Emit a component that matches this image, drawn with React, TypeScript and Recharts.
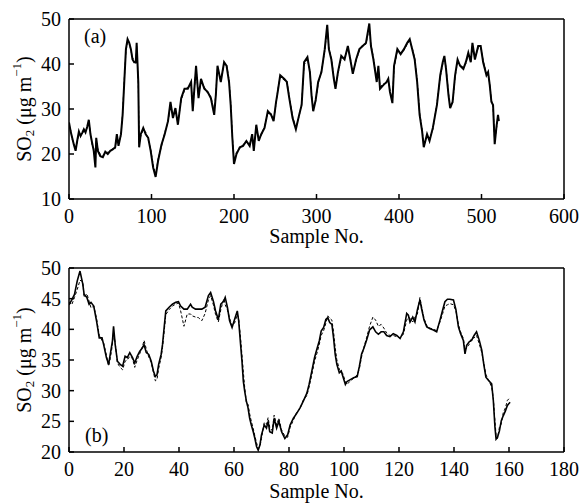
import React from "react";
import { LineChart, Line, XAxis, YAxis, Label } from "recharts";

const FONT = '"Liberation Serif", "Times New Roman", serif';

// panel (a): sample no. vs SO2, measured (solid) and modelled (dashed)
const aSample = [
  0, 2, 4, 6, 8, 10, 12, 14, 16, 18,
  20, 22, 24, 26, 28, 30, 32, 33, 35, 38,
  41, 44, 47, 50, 53, 56, 58, 60, 63, 65,
  67, 69, 71, 73, 75, 77, 79, 81, 82, 84,
  85, 87, 90, 93, 96, 99, 102, 105, 108, 112,
  116, 120, 123, 126, 129, 132, 136, 140, 144, 148,
  150, 154, 157, 160, 164, 168, 172, 176, 178, 180,
  184, 188, 191, 194, 196, 198, 200, 203, 207, 211,
  215, 219, 222, 224, 227, 230, 233, 237, 241, 245,
  248, 251, 253, 256, 261, 264, 267, 271, 275, 279,
  282, 285, 289, 292, 294, 296, 299, 302, 306, 310,
  313, 315, 318, 321, 323, 326, 330, 334, 338, 341,
  344, 348, 352, 356, 360, 364, 366, 369, 373, 375,
  377, 381, 385, 387, 389, 392, 394, 398, 402, 406,
  410, 413, 416, 419, 422, 425, 428, 430, 434, 437,
  441, 446, 450, 453, 455, 457, 460, 462, 465, 468,
  471, 474, 478, 481, 484, 487, 489, 492, 496, 499,
  502, 506, 508, 510, 512, 514, 516, 518, 520, 521,
];
const aMeasured = [
  27, 25, 23.5, 22, 20.7, 23, 25, 24, 24.7, 25.5,
  24.8, 26, 27.6, 24.4, 22.5, 20.7, 17, 23.6, 20.7, 19.5,
  19.3, 20.5, 20, 20.7, 21, 21.5, 24.4, 21.8, 24.4, 28.7,
  36, 43.3, 45.5, 44.7, 43.3, 41, 40.4, 40.4, 44.7, 36,
  21.5, 24.4, 25.8, 24.4, 23.6, 20.7, 17, 14.9, 18.5, 22,
  24.4, 27.3, 31.6, 28, 30.2, 26.5, 32.4, 34.5, 34.5, 36,
  29.5, 39.6, 32.4, 36.7, 34.5, 33.8, 32.4, 28.7, 33.1, 39.6,
  36, 40.4, 39.6, 36, 30.9, 23.6, 17.8, 20, 21.5, 21.8,
  22.9, 21.8, 24.4, 20.7, 26.5, 22.9, 24.4, 25.8, 29.5, 28.7,
  27.3, 31.6, 33.8, 37.5, 36.7, 36, 32.4, 28, 25.5, 28.7,
  30.9, 40.4, 41.5, 38.2, 33, 29.5, 32, 36, 38.2, 43.3,
  48.7, 43.3, 41, 36.7, 34.5, 38.2, 41.8, 41, 44, 41,
  37.8, 41, 43.3, 44, 44.7, 49, 44, 41, 36, 39.6,
  34.5, 35.3, 36, 36.7, 33.8, 31.3, 39.6, 43.3, 42.2, 43.3,
  44.7, 45.5, 43.3, 41, 36, 28.7, 25.1, 21.5, 24.4, 22.9,
  25.8, 30.9, 37.5, 40.4, 41.8, 38.9, 33.1, 30.2, 31.6, 37.5,
  41, 39.6, 38.9, 40.4, 42.5, 40.4, 44.7, 41, 44, 44,
  40.4, 37.5, 38.2, 35.3, 31.6, 30.9, 22.2, 25.8, 28.7, 27.3,
];
const aPredicted = [
  26.5, 25.4, 23.2, 22.4, 21.2, 22.6, 24.6, 24.3, 24.4, 25.2,
  25.1, 25.7, 27.1, 24.8, 22.1, 21.2, 18, 22.9, 21.1, 19.9,
  19.7, 20.2, 20.4, 20.4, 21.3, 21.2, 23.8, 22.2, 24, 29.3,
  36.6, 42.8, 45, 44.9, 43, 41.4, 40.8, 40.1, 44, 35.4,
  22.2, 24, 25.4, 24.8, 23.2, 21.1, 17.6, 15.4, 18.9, 21.6,
  24.8, 27, 31, 28.4, 29.8, 26.9, 32, 34.1, 34.9, 35.6,
  30.2, 39, 33, 36.3, 34.9, 33.5, 32.8, 29.3, 33.5, 39.1,
  36.4, 40, 39.9, 36.5, 31.5, 24.2, 18.3, 20.4, 21.2, 22.1,
  22.6, 22.2, 24, 21.2, 26.1, 23.3, 24.1, 26.2, 29.1, 29,
  27.6, 31.2, 34.2, 37.1, 36.4, 36.3, 32.8, 28.4, 25.9, 28.4,
  31.3, 39.8, 41.1, 38.6, 33.4, 29.9, 31.7, 35.6, 38.5, 42.9,
  48, 43.6, 41.4, 37.1, 34.9, 37.8, 41.4, 41.3, 43.6, 41.3,
  38.2, 40.7, 43, 44.3, 44.4, 48.2, 44.3, 41.4, 36.4, 39.2,
  34.9, 35.6, 35.7, 36.4, 34.2, 31.8, 39.1, 42.9, 42.5, 43,
  44.4, 45.1, 43.6, 41.3, 36.5, 29.2, 25.5, 22, 24, 23.3,
  25.4, 31.3, 37.1, 40, 41.4, 39.3, 33.5, 30.6, 31.3, 37.1,
  40.6, 39.9, 39.2, 40.1, 42.1, 40.8, 44.2, 41.3, 43.6, 43.7,
  40.8, 37.8, 37.9, 35.6, 32, 30.5, 22.8, 25.4, 28.3, 27.7,
];
const aXTicks = [0, 100, 200, 300, 400, 500, 600];
const aYTicks = [10, 20, 30, 40, 50];

// panel (b)
const bSample = [
  0, 1, 2, 3, 4, 5, 5.5, 6.5, 7.3, 8,
  9, 10, 11, 12, 12.6, 13.6, 14.4, 15, 15.8, 16.2,
  16.8, 17.6, 18.6, 19.5, 20.4, 21.2, 22.1, 23.1, 23.9, 24.8,
  25.7, 26.7, 27.3, 28.1, 29, 29.9, 30.7, 31.4, 32, 32.6,
  33.5, 34, 34.6, 35.2, 36.4, 37.6, 38.8, 39.8, 40.6, 41.8,
  43, 44.2, 44.8, 46, 47.1, 48.3, 49.5, 50.7, 51.5, 52.5,
  53.3, 54.3, 55.2, 56.3, 56.8, 57.6, 58.4, 59.3, 60.2, 61.2,
  61.7, 62.4, 62.9, 63.4, 63.9, 64.5, 65.1, 65.7, 66.3, 67,
  67.6, 68.2, 68.8, 69.4, 70, 71, 71.8, 72.4, 73, 73.9,
  74.6, 75.5, 76.3, 77.3, 78.5, 79.5, 80.4, 81.6, 82.8, 84,
  85.2, 86.5, 87.3, 88.3, 89.3, 90.1, 91, 91.7, 92.6, 93.4,
  94.1, 94.8, 95.6, 96.2, 96.8, 97.4, 98.3, 99, 99.6, 100.5,
  101.1, 102.3, 103.5, 104.8, 105.6, 106.4, 107.3, 108.2, 109.3, 110.5,
  111.5, 112.5, 113.5, 114.5, 115.5, 116.7, 117.9, 119.2, 120.4, 121.6,
  122.8, 123.4, 124, 125, 125.8, 126.7, 127.6, 128.2, 129.1, 130.1,
  131.3, 132.5, 133.7, 134.9, 135.9, 136.7, 137.6, 138.5, 139.8, 140.7,
  141.6, 142.4, 143.4, 144, 144.6, 145.6, 146.4, 147.3, 148.2, 149.2,
  150.1, 150.9, 151.6, 152.5, 153.7, 154.3, 154.9, 155.3, 155.8, 156.5,
  157.2, 157.9, 158.7, 159.4, 160.4,
];
const bMeasured = [
  44, 44.8, 45.7, 47.9, 49.5, 47.4, 45.7, 45.2, 44.1, 44.4,
  43.8, 41.4, 38.6, 38.6, 37.5, 35.4, 34.3, 35.9, 38.1, 40.5,
  37.5, 34.8, 34.3, 34, 35.6, 35.4, 36.2, 35.4, 34.5, 35.6,
  36.4, 37, 37.5, 36.2, 35.9, 34.8, 33.2, 32.3, 32.6, 34.3,
  35.9, 37.5, 40.3, 43, 43.6, 44.1, 44.4, 44.5, 43.8, 43.3,
  43.3, 44.1, 43.6, 43.3, 43.3, 43.3, 43.6, 45.5, 46, 44.6,
  43, 41.6, 44.1, 44.6, 45.2, 43.6, 41.4, 40.3, 41.6, 43,
  41.4, 37.5, 34.8, 31.5, 29.9, 28.3, 27.2, 25.5, 24.4, 23.3,
  22.2, 20.9, 20.3, 21.1, 22.8, 24.4, 23.9, 25, 23.3, 23.1,
  25.5, 23.9, 25, 23.3, 22.2, 22.8, 24.4, 25.5, 26.3, 27.2,
  28.3, 29.6, 31, 33.2, 35.4, 36.7, 38.1, 39.7, 40.3, 41.6,
  41.9, 41.1, 40.8, 38.6, 35.9, 34.3, 32.9, 33.2, 32.3, 31,
  31.5, 31.8, 32.1, 32.3, 34, 36, 37, 38.2, 39.9, 40.4,
  39.6, 39.2, 39.6, 39.6, 39, 38.8, 39.3, 39, 38.5, 39.6,
  42.6, 42.3, 41.2, 42, 41.2, 43.2, 44.8, 43.4, 41.5, 40.4,
  40.1, 39.9, 39.6, 41.5, 43.2, 44.5, 44.9, 44.9, 44.8, 43.2,
  40.4, 39.3, 38.2, 36, 37.4, 38, 38.2, 39, 39.6, 38.2,
  36.6, 34.1, 32.2, 31.7, 31.1, 28.4, 24, 22.1, 22.4, 23.4,
  25.1, 25.9, 26.7, 27.6, 28.1,
];
const bPredicted = [
  44.5, 44, 45.2, 46.5, 48, 47.8, 45.2, 45.8, 44.6, 43.5,
  43.8, 41.8, 39, 38.2, 37.8, 35.8, 34, 35.2, 37.5, 39.5,
  37.8, 34.5, 33.8, 33.4, 34.8, 35, 35.6, 35.2, 33.8, 35,
  36, 37.2, 38.2, 36.8, 35.5, 34.6, 33, 31.6, 31.8, 33.6,
  35.4, 37, 39.6, 42.4, 43.2, 43.8, 44.1, 44.3, 43, 40.5,
  42.5, 42.5, 42.2, 42, 41.9, 41.4, 42.6, 44.8, 45.5, 44,
  42.4, 41.2, 43.2, 45, 44, 43.2, 41.8, 40.6, 41, 42.4,
  41.8, 38.5, 35.8, 33, 30.5, 28, 27.8, 26.2, 25, 23.8,
  22.6, 21.5, 20.6, 20.8, 22.2, 24.8, 24.5, 25.6, 24, 23.5,
  26, 24.4, 25.5, 23.6, 22.6, 22.4, 24, 25.2, 26.5, 27,
  28.5, 29.2, 30.6, 32.6, 34.8, 36, 37.5, 39, 39.8, 41,
  42.2, 41.8, 41.5, 39.6, 37, 35, 33.5, 33, 32.8, 31.4,
  31, 31.6, 32, 32.6, 33.6, 35.5, 37.2, 38.6, 40.5, 42,
  41.5, 40.5, 40.8, 40.2, 39.4, 39, 39, 38.8, 38.6, 39.2,
  41.5, 42, 41.8, 41.2, 42, 42.5, 45.2, 43.8, 41.8, 40.6,
  40.2, 40, 39.8, 41.2, 42.6, 43.8, 44, 44.2, 44, 43,
  40.8, 39.6, 38.5, 36.6, 37, 37.6, 38.6, 38.6, 39, 37.6,
  36.2, 34.4, 32.6, 31.8, 30.6, 28.8, 25, 22.8, 22.2, 24,
  24.6, 26.4, 27.2, 28.4, 28.9,
];
const bXTicks = [0, 20, 40, 60, 80, 100, 120, 140, 160, 180];
const bYTicks = [20, 25, 30, 35, 40, 45, 50];

const zip = (s: number[], m: number[], p: number[]) =>
  s.map((x, i) => ({ sample: x, measured: m[i], predicted: p[i] }));

const aData = zip(aSample, aMeasured, aPredicted);
const bData = zip(bSample, bMeasured, bPredicted);

const tickFont = { fill: "#000", fontSize: 20, fontFamily: FONT };
const lineStyle = { stroke: "#000", strokeWidth: 1.5 };

function YTitle({ viewBox }: any) {
  const cx = viewBox.x + 24;
  const cy = viewBox.y + viewBox.height / 2;
  return (
    <text
      transform={`translate(${cx},${cy}) rotate(-90)`}
      textAnchor="middle"
      dominantBaseline="central"
      fontFamily={FONT}
      fontSize={20}
      fill="#000"
    >
      SO<tspan dy={5} fontSize={13}>2</tspan>
      <tspan dy={-5}> (μg m</tspan>
      <tspan dy={-8} fontSize={13}>−1</tspan>
      <tspan dy={8}>)</tspan>
    </text>
  );
}

function Panel(props: {
  data: any[];
  height: number;
  top: number;
  xTicks: number[];
  yTicks: number[];
  xDomain: [number, number];
  yDomain: [number, number];
  xAxisHeight: number;
  marginTop: number;
  marginBottom: number;
  xTitleDy: number;
  tag: string;
  tagDx: number;
  tagDy: number;
  solidWidth: number;
}) {
  const p = props;
  return (
    <div style={{ position: "absolute", left: 0, top: p.top }}>
      <LineChart
        width={581}
        height={p.height}
        data={p.data}
        margin={{ top: p.marginTop, right: 16, bottom: p.marginBottom, left: 0 }}
      >
        <XAxis
          xAxisId="b"
          dataKey="sample"
          type="number"
          domain={p.xDomain}
          ticks={p.xTicks}
          interval={0}
          allowDataOverflow
          height={p.xAxisHeight}
          tickSize={-5}
          tickMargin={15}
          tick={tickFont}
          axisLine={lineStyle}
          tickLine={lineStyle}
        >
          <Label
            content={({ viewBox }: any) => (
              <text
                x={viewBox.x + viewBox.width / 2}
                y={viewBox.y + p.xTitleDy}
                textAnchor="middle"
                fontFamily={FONT}
                fontSize={20}
                fill="#000"
              >
                Sample No.
              </text>
            )}
          />
        </XAxis>
        <XAxis
          xAxisId="t"
          orientation="top"
          dataKey="sample"
          type="number"
          domain={p.xDomain}
          ticks={p.xTicks}
          interval={0}
          allowDataOverflow
          height={1}
          tickSize={-5}
          tick={false}
          axisLine={lineStyle}
          tickLine={lineStyle}
        />
        <YAxis
          yAxisId="l"
          type="number"
          domain={p.yDomain}
          ticks={p.yTicks}
          interval={0}
          allowDataOverflow
          width={69}
          tickSize={-5}
          tickMargin={13}
          tick={tickFont}
          axisLine={lineStyle}
          tickLine={lineStyle}
        >
          <Label content={YTitle} />
          <Label
            content={({ viewBox }: any) => (
              <text
                x={viewBox.x + viewBox.width + p.tagDx}
                y={viewBox.y + p.tagDy}
                fontFamily={FONT}
                fontSize={20}
                fill="#000"
              >
                {p.tag}
              </text>
            )}
          />
        </YAxis>
        <YAxis
          yAxisId="r"
          orientation="right"
          type="number"
          domain={p.yDomain}
          ticks={p.yTicks}
          interval={0}
          allowDataOverflow
          width={1}
          tickSize={-5}
          tick={false}
          axisLine={lineStyle}
          tickLine={lineStyle}
        />
        <Line
          xAxisId="b"
          yAxisId="l"
          type="linear"
          dataKey="predicted"
          stroke="#000"
          strokeWidth={1}
          strokeDasharray="3 2"
          dot={false}
          isAnimationActive={false}
        />
        <Line
          xAxisId="b"
          yAxisId="l"
          type="linear"
          dataKey="measured"
          stroke="#000"
          strokeWidth={p.solidWidth}
          dot={false}
          isAnimationActive={false}
        />
      </LineChart>
    </div>
  );
}

export default function App() {
  return (
    <div style={{ position: "absolute", left: 0, top: 0, width: 581, height: 504, background: "#fff" }}>
      <Panel
        data={aData}
        height={250}
        top={0}
        xTicks={aXTicks}
        yTicks={aYTicks}
        xDomain={[0, 600]}
        yDomain={[10, 50]}
        xAxisHeight={40}
        marginTop={18}
        marginBottom={11}
        xTitleDy={44}
        tag="(a)"
        tagDx={15}
        tagDy={24}
        solidWidth={2}
      />
      <Panel
        data={bData}
        height={254}
        top={250}
        xTicks={bXTicks}
        yTicks={bYTicks}
        xDomain={[0, 180]}
        yDomain={[20, 50]}
        xAxisHeight={45}
        marginTop={17}
        marginBottom={7}
        xTitleDy={46}
        tag="(b)"
        tagDx={16}
        tagDy={174}
        solidWidth={1.6}
      />
    </div>
  );
}
